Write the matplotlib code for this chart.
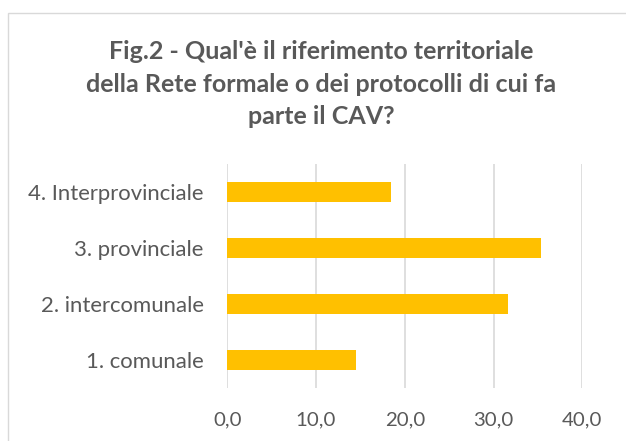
import numpy as np
import matplotlib.pyplot as plt
from matplotlib.patches import Rectangle

# dati
categorie = ['1. comunale', '2. intercomunale', '3. provinciale', '4. Interprovinciale']
valori = [14.5, 31.6, 35.4, 18.5]
tick_x = [0, 10, 20, 30, 40]
titolo = ["Fig.2 - Qual'è il riferimento territoriale",
          "della Rete formale o dei protocolli di cui fa",
          "parte il CAV?"]

plt.rcParams['font.family'] = ['Lato', 'DejaVu Sans']
grigio = '#595959'

fig = plt.figure(figsize=(6.26, 4.41), dpi=100)
renderer = fig.canvas.get_renderer()


def adatta(testo, larghezza, size0=12, **kw):
    # trova la dimensione del font che dà la larghezza voluta (in pixel)
    t = fig.text(0, 0, testo, fontsize=size0, **kw)
    w = t.get_window_extent(renderer).width
    t.remove()
    return size0 * larghezza / w


# cornice del grafico (tagliata a destra e in basso)
fig.patches.append(Rectangle((8/626, -0.1), 1.0, 1 - 13/441 + 0.1, transform=fig.transFigure,
                             fill=False, edgecolor='#d9d9d9', linewidth=1.0))

ax = fig.add_axes([227.3/626, 1 - 388/441, 355/626, 224/441])
y = np.arange(len(categorie))
ax.barh(y, valori, height=0.36, color='#FFC000', zorder=3)

fs_tick = adatta('4. Interprovinciale', 175)
fs_x = adatta('10,0', 40)

ax.set_xlim(0, 40)
ax.set_ylim(-0.5, 3.5)
ax.set_xticks(tick_x)
ax.set_xticklabels([('%.1f' % v).replace('.', ',') for v in tick_x])
ax.set_yticks(y)
ax.set_yticklabels(categorie)
ax.tick_params(axis='both', length=0, colors=grigio)
ax.tick_params(axis='y', labelsize=fs_tick, pad=17)
ax.tick_params(axis='x', labelsize=fs_x, pad=17)
ax.grid(axis='x', color='#d9d9d9', linewidth=1.2, zorder=0)
for s in ax.spines.values():
    s.set_visible(False)

fs_title = adatta(titolo[0], 420, fontweight='bold')
for i, riga in enumerate(titolo):
    fig.text(321/626, 1 - (59 + 32.5*i)/441, riga, ha='center', va='baseline',
             fontsize=fs_title, fontweight='bold', color=grigio)

fig.savefig('out.png', dpi=100)
